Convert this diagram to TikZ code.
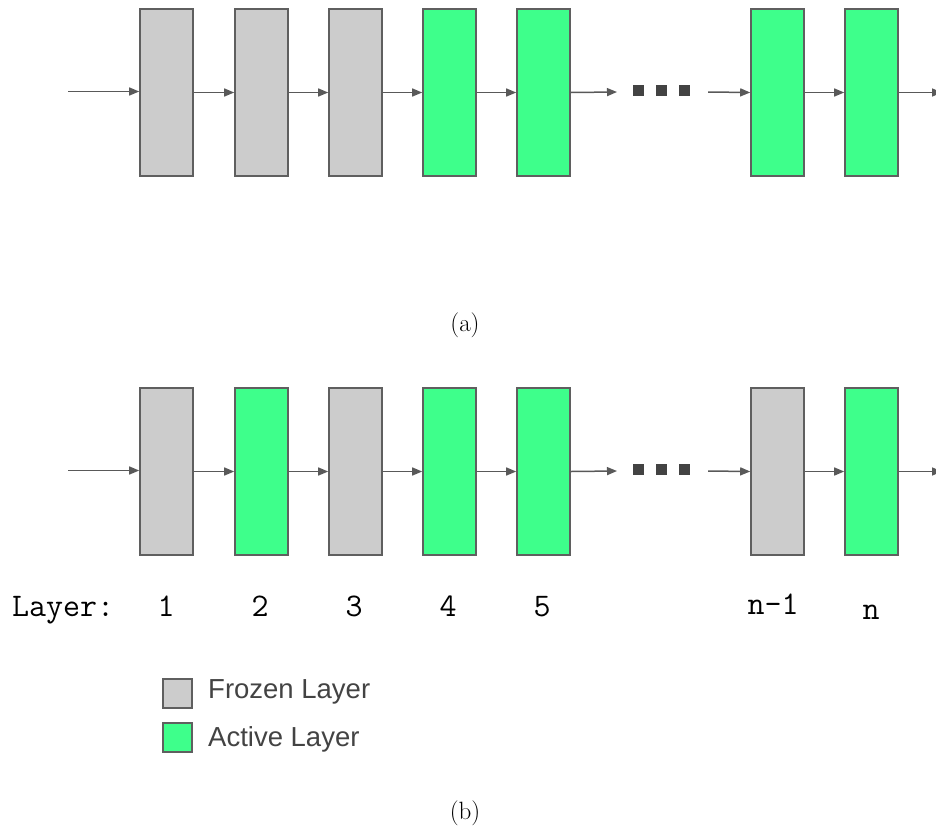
\documentclass[tikz,border=0pt]{standalone}
\usepackage{fontspec}
\newfontfamily\legendfont{Liberation Sans}
\usetikzlibrary{arrows.meta}
\definecolor{frozenfill}{HTML}{CCCCCC}
\definecolor{activefill}{HTML}{3EFF8B}
\definecolor{boxline}{HTML}{5F5F5F}
\definecolor{arrowline}{HTML}{595959}
\definecolor{darkgrey}{HTML}{434343}
\tikzset{
  layerbox/.style={draw=boxline, line width=1.6pt, inner sep=0pt,
    minimum width=53pt, minimum height=167pt},
  frozen/.style={layerbox, fill=frozenfill},
  active/.style={layerbox, fill=activefill},
  flow/.style={draw=arrowline, line width=1.5pt,
    -{Triangle[length=10pt,width=8pt]}},
  dotsq/.style={fill=darkgrey, inner sep=0pt, minimum size=11pt},
  layerlbl/.style={font=\ttfamily\fontsize{33}{37}\selectfont, text=black,
    anchor=base, inner sep=0pt},
  legendbox/.style={draw=boxline, line width=1.4pt, inner sep=0pt, minimum size=29pt},
  legendtxt/.style={font=\legendfont\fontsize{27.5}{32}\selectfont, text=darkgrey,
    anchor=west, inner sep=0pt},
  caption/.style={font=\fontsize{25}{29}\selectfont}
}
\begin{document}
\begin{tikzpicture}[x=1pt,y=-1pt]
\useasboundingbox (0,0) rectangle (936,830);
\clip (0,0) rectangle (936,830);

% ---------- (a): last layers trained ----------
\node[frozen] (a1) at (166.5,92.5) {};
\node[frozen] (a2) at (261.5,92.5) {};
\node[frozen] (a3) at (355.5,92.5) {};
\node[active] (a4) at (449.5,92.5) {};
\node[active] (a5) at (543.5,92.5) {};
\node[active] (a6) at (777.5,92.5) {};
\node[active] (a7) at (871.5,92.5) {};
\coordinate (ain) at (68,91.5);
\coordinate (aout) at (942,92.5);
\coordinate (agapL) at (617,92);
\coordinate (agapS) at (708,92);
\node[dotsq] (ad1) at (638.5,90) {};
\node[dotsq] (ad2) at (661.5,90) {};
\node[dotsq] (ad3) at (684.5,90) {};
\draw[flow] (ain) -- (a1.west |- ain);
\draw[flow] (a1.east) -- (a2.west);
\draw[flow] (a2.east) -- (a3.west);
\draw[flow] (a3.east) -- (a4.west);
\draw[flow] (a4.east) -- (a5.west);
\draw[flow] (a5.east) -- (agapL);
\draw[flow] (agapS) -- (a6.west);
\draw[flow] (a6.east) -- (a7.west);
\draw[flow] (a7.east) -- (aout);
\node[caption] (capa) at (465,325) {(a)};

% ---------- (b): alternating frozen / active layers ----------
\node[frozen] (b1) at (166.5,471.5) {};
\node[active] (b2) at (261.5,471.5) {};
\node[frozen] (b3) at (355.5,471.5) {};
\node[active] (b4) at (449.5,471.5) {};
\node[active] (b5) at (543.5,471.5) {};
\node[frozen] (b6) at (777.5,471.5) {};
\node[active] (b7) at (871.5,471.5) {};
\coordinate (bin) at (68,470.5);
\coordinate (bout) at (942,471.5);
\coordinate (bgapL) at (617,471);
\coordinate (bgapS) at (708,471);
\node[dotsq] (bd1) at (638.5,469) {};
\node[dotsq] (bd2) at (661.5,469) {};
\node[dotsq] (bd3) at (684.5,469) {};
\draw[flow] (bin) -- (b1.west |- bin);
\draw[flow] (b1.east) -- (b2.west);
\draw[flow] (b2.east) -- (b3.west);
\draw[flow] (b3.east) -- (b4.west);
\draw[flow] (b4.east) -- (b5.west);
\draw[flow] (b5.east) -- (bgapL);
\draw[flow] (bgapS) -- (b6.west);
\draw[flow] (b6.east) -- (b7.west);
\draw[flow] (b7.east) -- (bout);

% layer numbers
\node[layerlbl, anchor=base west] (lyr) at (12,616) {Layer:};
\node[layerlbl] (n1) at (166,616) {1};
\node[layerlbl] (n2) at (260,616) {2};
\node[layerlbl] (n3) at (354,616) {3};
\node[layerlbl] (n4) at (448,616) {4};
\node[layerlbl] (n5) at (542,616) {5};
\node[layerlbl] (nm) at (773,614) {n-1};
\node[layerlbl] (nn) at (871,619) {n};

% legend
\node[legendbox, fill=frozenfill] (lgf) at (177.5,693.5) {};
\node[legendbox, fill=activefill] (lga) at (177.5,737.5) {};
\node[legendtxt] (lgft) at (208,692) {Frozen Layer};
\node[legendtxt] (lgat) at (208,739) {Active Layer};

\node[caption] (capb) at (465,813) {(b)};
\end{tikzpicture}
\end{document}
